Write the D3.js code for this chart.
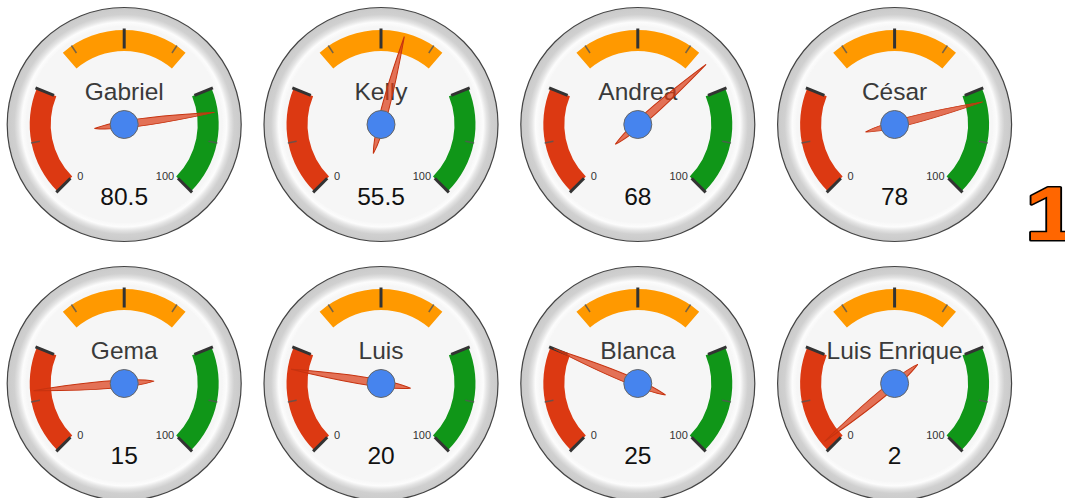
<!DOCTYPE html>
<html>
<head>
    <meta charset="utf-8" />
    <title>Gauges</title>
    <script src="https://cdn.jsdelivr.net/npm/d3@7"></script>
    <style>
        body { margin: 0; background: #fff; }
        svg { display: block; font-family: Arial, "Liberation Sans", sans-serif; }
    </style>
</head>
<body>
<script>

    // data
    var names = ["Gabriel", "Kelly", "Andrea", "César", "Gema", "Luis", "Blanca", "Luis Enrique"];
    var values = [80.5, 55.5, 68, 78, 15, 20, 25, 2];
    var gaugeMin = 0, gaugeMax = 100;
    var redZone = [0, 25];
    var yellowZone = [35, 65];
    var greenZone = [75, 100];
    var majorTicks = [0, 25, 50, 75, 100];
    var minorTicks = [12.5, 37.5, 62.5, 87.5];
    var scaleLabels = ["0", "100"];

    var w = 1065, h = 498;
    var R = 117;

    var svg = d3.select("body").append("svg")
        .attr("width", w)
        .attr("height", h);

    // ring gradient
    var grad = svg.append("defs").append("radialGradient")
        .attr("id", "ring");
    grad.append("stop").attr("offset", 0.84).attr("stop-color", "#f7f7f7");
    grad.append("stop").attr("offset", 0.875).attr("stop-color", "#fcfcfc");
    grad.append("stop").attr("offset", 0.905).attr("stop-color", "#e4e4e4");
    grad.append("stop").attr("offset", 0.94).attr("stop-color", "#d0d0d0");
    grad.append("stop").attr("offset", 1).attr("stop-color", "#cacaca");

    var angle = d3.scaleLinear()
        .domain([gaugeMin, gaugeMax])
        .range([-135 * Math.PI / 180, 135 * Math.PI / 180]);

    var colX = d3.scaleLinear().domain([0, 3]).range([124.2, 894.6]);
    var rowY = d3.scaleLinear().domain([0, 1]).range([124.5, 383.5]);

    var bandArc = d3.arc().innerRadius(73.5).outerRadius(94.5);

    function pt(v, r) {
        var a = angle(v);
        return [r * Math.sin(a), -r * Math.cos(a)];
    }

    var gauges = svg.selectAll("g.gauge")
        .data(names)
        .enter()
        .append("g")
        .attr("class", "gauge")
        .attr("transform", function (d, i) {
            return "translate(" + colX(i % 4) + "," + rowY(Math.floor(i / 4)) + ")";
        });

    // body
    gauges.append("circle")
        .attr("r", R)
        .attr("fill", "url(#ring)")
        .attr("stroke", "#444")
        .attr("stroke-width", 1.2);

    gauges.append("circle")
        .attr("r", 98.5)
        .attr("fill", "#f6f6f6");

    // bands
    [[redZone, "#dc3912"], [yellowZone, "#ff9900"], [greenZone, "#109618"]].forEach(function (z) {
        gauges.append("path")
            .attr("d", bandArc({ startAngle: angle(z[0][0]), endAngle: angle(z[0][1]) }))
            .attr("fill", z[1]);
    });

    // ticks
    minorTicks.forEach(function (v) {
        var p1 = pt(v, 86), p2 = pt(v, 95);
        gauges.append("line")
            .attr("x1", p1[0]).attr("y1", p1[1])
            .attr("x2", p2[0]).attr("y2", p2[1])
            .attr("stroke", "#555")
            .attr("stroke-opacity", 0.8)
            .attr("stroke-width", 1.5);
    });

    majorTicks.forEach(function (v) {
        var p1 = pt(v, 76), p2 = pt(v, 96);
        gauges.append("line")
            .attr("x1", p1[0]).attr("y1", p1[1])
            .attr("x2", p2[0]).attr("y2", p2[1])
            .attr("stroke", "#333")
            .attr("stroke-width", 3);
    });

    // min / max labels
    gauges.append("text")
        .attr("x", -47).attr("y", 55.5)
        .attr("font-size", 11)
        .attr("fill", "#333")
        .text(scaleLabels[0]);

    gauges.append("text")
        .attr("x", 50).attr("y", 55.5)
        .attr("font-size", 11)
        .attr("text-anchor", "end")
        .attr("fill", "#333")
        .text(scaleLabels[1]);

    // name label
    gauges.append("text")
        .attr("y", -25)
        .attr("text-anchor", "middle")
        .attr("font-size", 24.5)
        .attr("fill", "#3a3a3a")
        .text(function (d) { return d; });

    // value
    gauges.append("text")
        .attr("y", 80)
        .attr("text-anchor", "middle")
        .attr("font-size", 24.5)
        .attr("fill", "#111")
        .text(function (d, i) { return values[i]; });

    // needle
    gauges.append("path")
        .attr("d", "M0,-91 Q7.5,0 0,30 Q-7.5,0 0,-91 Z")
        .attr("transform", function (d, i) {
            return "rotate(" + (angle(values[i]) * 180 / Math.PI) + ")";
        })
        .attr("fill", "#dc3912")
        .attr("fill-opacity", 0.7)
        .attr("stroke", "#c63310")
        .attr("stroke-width", 1);

    gauges.append("circle")
        .attr("r", 14)
        .attr("fill", "#4684ee")
        .attr("stroke", "#666")
        .attr("stroke-width", 1);

    // big number at the right edge (cut by the window)
    svg.append("text")
        .attr("x", 1025)
        .attr("y", 240)
        .attr("font-size", 76)
        .attr("font-weight", "bold")
        .attr("fill", "#ff6600")
        .attr("stroke", "#000")
        .attr("stroke-width", 3)
        .attr("stroke-linejoin", "round")
        .attr("paint-order", "stroke")
        .attr("transform", "translate(1025,240) scale(1.25,1) translate(-1025,-240)")
        .text("1");

</script>
</body>
</html>
